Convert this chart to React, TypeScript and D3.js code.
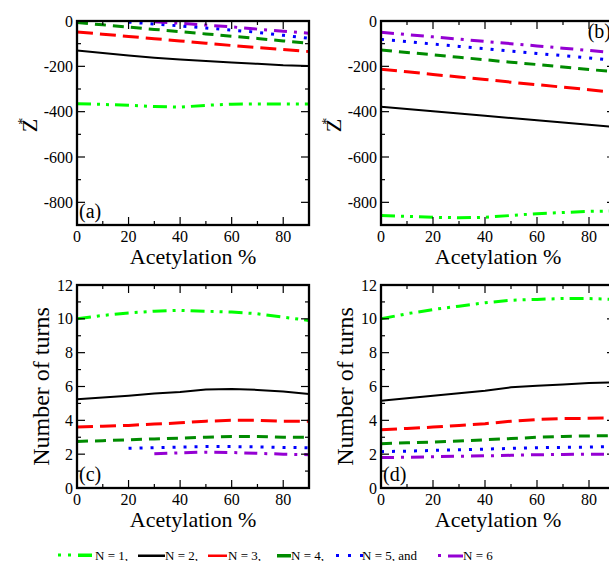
import React from 'react';
import * as d3 from 'd3';

// ---------- data ----------
const acetylation = [0, 10, 20, 30, 40, 50, 60, 70, 80, 90];
const seriesLabels = ['N = 1,', 'N = 2,', 'N = 3,', 'N = 4,', 'N = 5, and', 'N = 6'];

// panel (a): Z*
const zA_N1 = [-365, -368, -372, -377, -380, -372, -367, -366, -366, -366];
const zA_N2 = [-130, -141, -152, -162, -170, -177, -183, -189, -195, -198];
const zA_N3 = [-48, -58, -68, -78, -88, -98, -108, -117, -126, -135];
const zA_N4 = [-7, -17, -27, -37, -47, -57, -67, -77, -88, -98];
const zA_N5 = [null, null, -5, -13, -22, -31, -40, -50, -63, -76];
const zA_N6 = [null, null, null, -3, -10, -18, -26, -36, -45, -54];

// panel (b): Z*
const zB_N1 = [-858, -862, -866, -868, -866, -858, -850, -845, -840, -838];
const zB_N2 = [-378, -388, -398, -408, -418, -428, -438, -448, -458, -468];
const zB_N3 = [-213, -224, -236, -247, -258, -270, -281, -292, -303, -315];
const zB_N4 = [-128, -139, -149, -160, -171, -182, -192, -203, -214, -224];
const zB_N5 = [-81, -91, -102, -112, -122, -133, -143, -153, -163, -174];
const zB_N6 = [-50, -60, -70, -80, -90, -100, -110, -120, -130, -140];

// panel (c): number of turns
const tC_N1 = [10.0, 10.2, 10.35, 10.45, 10.5, 10.45, 10.4, 10.3, 10.1, 9.9];
const tC_N2 = [5.25, 5.35, 5.45, 5.58, 5.68, 5.82, 5.85, 5.8, 5.7, 5.55];
const tC_N3 = [3.6, 3.65, 3.7, 3.78, 3.85, 3.95, 4.0, 4.0, 3.95, 3.95];
const tC_N4 = [2.75, 2.8, 2.85, 2.9, 2.95, 3.0, 3.05, 3.05, 3.0, 3.0];
const tC_N5 = [null, null, 2.35, 2.38, 2.42, 2.45, 2.45, 2.43, 2.4, 2.38];
const tC_N6 = [null, null, null, 2.02, 2.08, 2.12, 2.1, 2.05, 2.0, 1.97];

// panel (d): number of turns
const tD_N1 = [10.0, 10.3, 10.55, 10.75, 10.95, 11.1, 11.15, 11.2, 11.2, 11.15];
const tD_N2 = [5.15, 5.3, 5.45, 5.6, 5.75, 5.95, 6.05, 6.12, 6.2, 6.25];
const tD_N3 = [3.45, 3.52, 3.6, 3.7, 3.8, 3.95, 4.05, 4.1, 4.12, 4.15];
const tD_N4 = [2.62, 2.67, 2.72, 2.78, 2.85, 2.92, 3.0, 3.05, 3.08, 3.1];
const tD_N5 = [2.15, 2.18, 2.22, 2.26, 2.3, 2.34, 2.38, 2.4, 2.42, 2.45];
const tD_N6 = [1.8, 1.82, 1.85, 1.88, 1.9, 1.93, 1.97, 1.98, 2.0, 2.0];

const xTicks = [0, 20, 40, 60, 80];
const zTicks = [0, -200, -400, -600, -800];
const turnTicks = [0, 2, 4, 6, 8, 10, 12];

// ---------- styles ----------
const colors = ['#00ff00', '#000000', '#ff0000', '#008b00', '#0000ff', '#9400d3'];
const widths = [3, 2, 3, 3, 3, 3];
const dashes = ['14,6,3,6,3,6', undefined, '16,7', '11,7', '3,8', '13,7,3,7'];

const FONT = '"Liberation Serif", "DejaVu Serif", Times, serif';

type Panel = {
  id: string;
  left: number;
  top: number;
  width: number;
  height: number;
  yDomain: [number, number];
  yTicks: number[];
  yMinorStep: number;
  kind: 'z' | 't';
  series: (number | null)[][];
  tag: string;
  tagPos: 'bl' | 'tr';
};

const panels: Panel[] = [
  { id: 'a', left: 77, top: 21, width: 232, height: 204, yDomain: [-900, 0], yTicks: zTicks, yMinorStep: 100, kind: 'z', series: [zA_N1, zA_N2, zA_N3, zA_N4, zA_N5, zA_N6], tag: '(a)', tagPos: 'bl' },
  { id: 'b', left: 381, top: 21, width: 234, height: 204, yDomain: [-900, 0], yTicks: zTicks, yMinorStep: 100, kind: 'z', series: [zB_N1, zB_N2, zB_N3, zB_N4, zB_N5, zB_N6], tag: '(b)', tagPos: 'tr' },
  { id: 'c', left: 77, top: 285, width: 232, height: 203, yDomain: [0, 12], yTicks: turnTicks, yMinorStep: 1, kind: 't', series: [tC_N1, tC_N2, tC_N3, tC_N4, tC_N5, tC_N6], tag: '(c)', tagPos: 'bl' },
  { id: 'd', left: 381, top: 285, width: 234, height: 203, yDomain: [0, 12], yTicks: turnTicks, yMinorStep: 1, kind: 't', series: [tD_N1, tD_N2, tD_N3, tD_N4, tD_N5, tD_N6], tag: '(d)', tagPos: 'bl' },
];

function PanelView({ p }: { p: Panel }) {
  const x = d3.scaleLinear().domain([0, 90]).range([p.left, p.left + p.width]);
  const y = d3.scaleLinear().domain(p.yDomain).range([p.top + p.height, p.top]);
  const bottom = p.top + p.height;
  const right = p.left + p.width;
  const xMinor = d3.range(0, 91, 10).filter((v) => !xTicks.includes(v));
  const yMinor = d3.range(p.yDomain[0], p.yDomain[1] + 1e-9, p.yMinorStep).filter((v) => !p.yTicks.some((t) => Math.abs(t - v) < 1e-9));
  const line = d3
    .line<[number, number | null]>()
    .defined((d) => d[1] !== null)
    .x((d) => x(d[0]))
    .y((d) => y(d[1] as number));
  const MAJ = 8;
  const MIN = 4;
  const clipId = `clip-${p.id}`;
  const midY = p.top + p.height / 2;
  const midX = p.left + p.width / 2;
  return (
    <g>
      <defs>
        <clipPath id={clipId}>
          <rect x={p.left} y={p.top} width={p.width} height={p.height} />
        </clipPath>
      </defs>
      <g clipPath={`url(#${clipId})`} fill="none">
        {p.series.map((s, i) => (
          <path
            key={i}
            d={line(acetylation.map((a, j) => [a, s[j]] as [number, number | null])) || ''}
            stroke={colors[i]}
            strokeWidth={widths[i]}
            strokeDasharray={dashes[i]}
            strokeLinejoin="round"
          />
        ))}
      </g>
      {/* ticks */}
      <g stroke="#000" strokeWidth={1.2}>
        {xTicks.map((t) => (
          <g key={`xt${t}`}>
            <line x1={x(t)} x2={x(t)} y1={bottom} y2={bottom - MAJ} />
            <line x1={x(t)} x2={x(t)} y1={p.top} y2={p.top + MAJ} />
          </g>
        ))}
        {xMinor.map((t) => (
          <g key={`xm${t}`}>
            <line x1={x(t)} x2={x(t)} y1={bottom} y2={bottom - MIN} />
            <line x1={x(t)} x2={x(t)} y1={p.top} y2={p.top + MIN} />
          </g>
        ))}
        {p.yTicks.map((t) => (
          <g key={`yt${t}`}>
            <line x1={p.left} x2={p.left + MAJ} y1={y(t)} y2={y(t)} />
            <line x1={right} x2={right - MAJ} y1={y(t)} y2={y(t)} />
          </g>
        ))}
        {yMinor.map((t) => (
          <g key={`ym${t}`}>
            <line x1={p.left} x2={p.left + MIN} y1={y(t)} y2={y(t)} />
            <line x1={right} x2={right - MIN} y1={y(t)} y2={y(t)} />
          </g>
        ))}
      </g>
      <rect x={p.left} y={p.top} width={p.width} height={p.height} fill="none" stroke="#000" strokeWidth={2.3} />
      {/* tick labels */}
      <g fontFamily={FONT} fontSize={16} fill="#000">
        {xTicks.map((t) => (
          <text key={`xl${t}`} x={x(t)} y={bottom + 17} textAnchor="middle">
            {t}
          </text>
        ))}
        {p.yTicks.map((t) => (
          <text key={`yl${t}`} x={p.left - 4} y={y(t)} dy="0.35em" textAnchor="end">
            {t < 0 ? `-${Math.abs(t)}` : `${t}`}
          </text>
        ))}
      </g>
      {/* axis titles */}
      <text x={midX} y={bottom + 39} textAnchor="middle" fontFamily={FONT} fontSize={22}>
        Acetylation %
      </text>
      {p.kind === 'z' ? (
        <text transform={`translate(${p.left - 40},${midY + 2}) rotate(-90)`} textAnchor="middle" fontFamily={FONT} fontSize={22}>
          Z
          <tspan fontSize={14} dy={-9} dx={-6}>
            *
          </tspan>
        </text>
      ) : (
        <text transform={`translate(${p.left - 28},${midY}) rotate(-90)`} textAnchor="middle" fontFamily={FONT} fontSize={24}>
          Number of turns
        </text>
      )}
      {p.tagPos === 'bl' ? (
        <text x={p.left + 2} y={bottom - 7} fontFamily={FONT} fontSize={20}>
          {p.tag}
        </text>
      ) : (
        <text x={right - 4} y={p.top + 17} textAnchor="end" fontFamily={FONT} fontSize={20}>
          {p.tag}
        </text>
      )}
    </g>
  );
}

// legend layout (sample starts and text starts)
const legendSampleX = [58, 138, 208, 277, 336, 438];
const legendTextX = [95, 165, 228, 291, 362, 463];

function LegendSample({ i, x0, cy }: { i: number; x0: number; cy: number }) {
  const c = colors[i];
  if (i === 0)
    return (
      <g fill={c}>
        <rect x={x0} y={cy - 1.5} width={3} height={3} />
        <rect x={x0 + 10} y={cy - 1.5} width={3} height={3} />
        <rect x={x0 + 20} y={cy - 1.5} width={14} height={3.5} />
      </g>
    );
  if (i === 1) return <rect x={x0} y={cy - 0.5} width={27} height={2.5} fill={c} />;
  if (i === 2) return <rect x={x0} y={cy - 0.5} width={19} height={2.5} fill={c} />;
  if (i === 3) return <rect x={x0} y={cy - 1} width={14} height={3.5} fill={c} />;
  if (i === 4)
    return (
      <g fill={c}>
        <rect x={x0} y={cy - 1} width={3} height={3} />
        <rect x={x0 + 12} y={cy - 1} width={3} height={3} />
        <rect x={x0 + 24} y={cy - 1} width={3} height={3} />
      </g>
    );
  return (
    <g fill={c}>
      <rect x={x0} y={cy - 1} width={3} height={3} />
      <rect x={x0 + 10} y={cy - 0.5} width={15} height={3} />
    </g>
  );
}

export default function App() {
  const legendCy = 555;
  return (
    <svg width={609} height={561} style={{ position: 'absolute', left: 0, top: 0, background: '#fff' }}>
      <rect x={0} y={0} width={609} height={561} fill="#fff" />
      {panels.map((p) => (
        <PanelView key={p.id} p={p} />
      ))}
      <g>
        {seriesLabels.map((lab, i) => (
          <g key={lab}>
            <LegendSample i={i} x0={legendSampleX[i]} cy={legendCy} />
            <text x={legendTextX[i]} y={legendCy + 4.5} fontFamily={FONT} fontSize={13}>
              {lab}
            </text>
          </g>
        ))}
      </g>
    </svg>
  );
}
